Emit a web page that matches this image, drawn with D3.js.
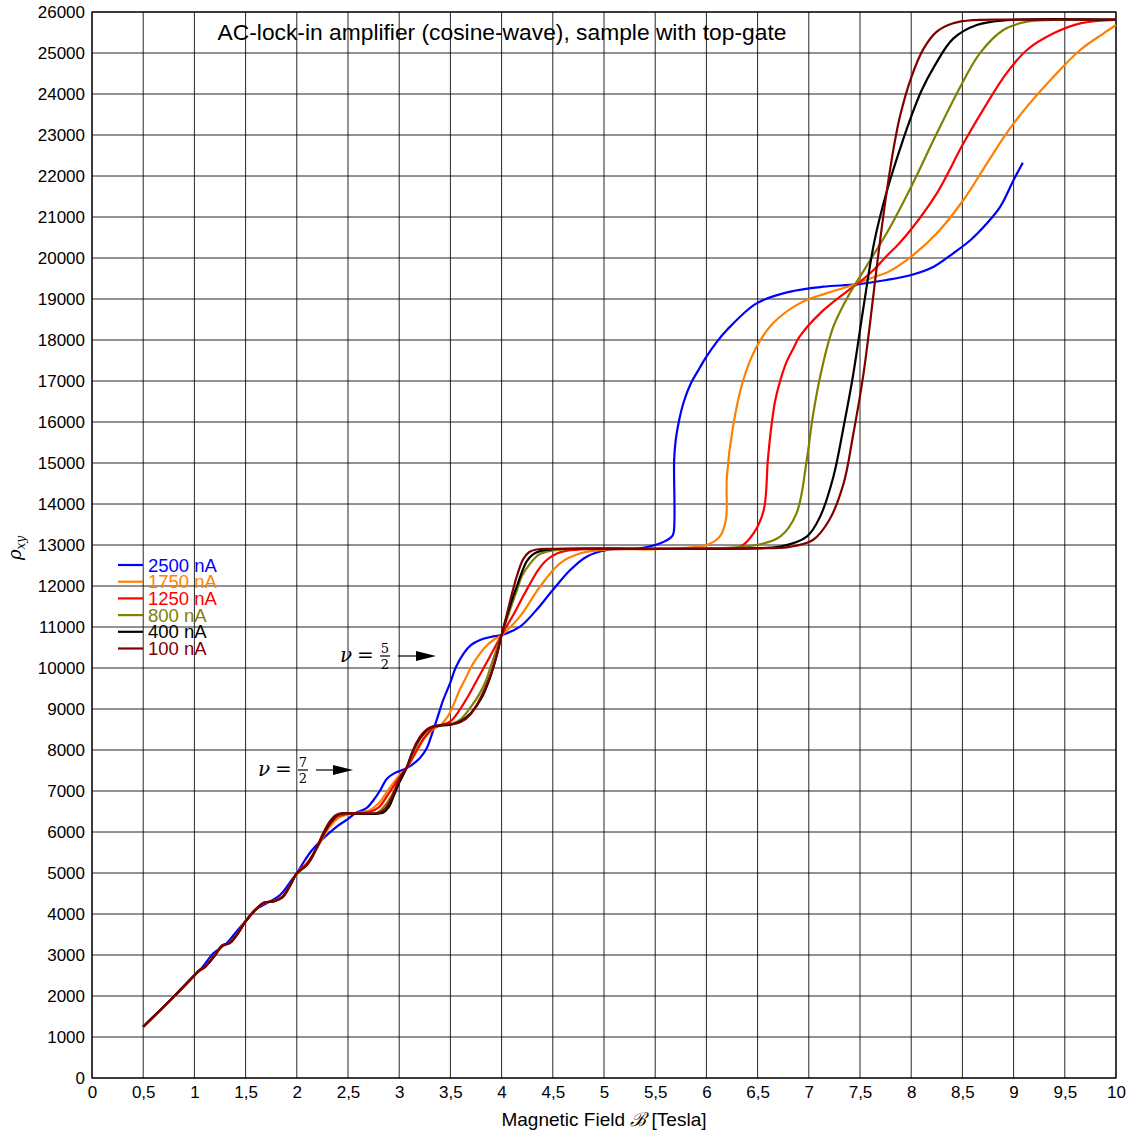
<!DOCTYPE html>
<html><head><meta charset="utf-8">
<script src="https://cdn.jsdelivr.net/npm/d3@7"></script>
<style>
body{margin:0;background:#fff;}
svg{display:block;}
text{font-family:"Liberation Sans",Arial,sans-serif;}
</style></head>
<body>
<svg id="c" width="1135" height="1135"></svg>
<script>
const xTicks = [0,0.5,1,1.5,2,2.5,3,3.5,4,4.5,5,5.5,6,6.5,7,7.5,8,8.5,9,9.5,10];
const yTicks = d3.range(0, 26001, 1000);
const seriesNames = ["2500 nA","1750 nA","1250 nA","800 nA","400 nA","100 nA"];
const seriesColors = ["#0000ff","#ff8000","#ff0000","#808000","#000000","#800000"];

const blue = [[0.5,1250],[0.8,1983],[1.0,2512],[1.07,2675],[1.185,3041],[1.315,3285],[1.41,3569],[1.51,3854],[1.59,4098],[1.705,4261],[1.836,4463],[1.95,4829],[2.0,4992],[2.08,5317],[2.15,5560],[2.26,5846],[2.4,6150],[2.49,6300],[2.57,6455],[2.68,6580],[2.75,6780],[2.81,7000],[2.88,7300],[2.95,7430],[3.07,7553],[3.2,7797],[3.27,8050],[3.3,8244],[3.366,8732],[3.43,9220],[3.5,9650],[3.55,10000],[3.63,10358],[3.7,10560],[3.79,10683],[3.9,10760],[4.0,10805],[4.18,11008],[4.34,11415],[4.5,11902],[4.67,12390],[4.83,12715],[5.03,12878],[5.35,12919],[5.55,13041],[5.66,13200],[5.68,13300],[5.685,15073],[5.7,15550],[5.73,16000],[5.78,16500],[5.85,16950],[5.93,17300],[6.0,17593],[6.1,17950],[6.2,18244],[6.49,18894],[6.82,19180],[7.14,19300],[7.47,19358],[7.76,19463],[8.0,19585],[8.22,19788],[8.41,20114],[8.58,20439],[8.74,20846],[8.87,21252],[9.0,21902],[9.09,22325]];
const orange = [[0.5,1250],[0.8,1985],[1.0,2505],[1.05,2615],[1.1,2700],[1.2,3000],[1.27,3215],[1.35,3300],[1.42,3520],[1.5,3830],[1.6,4120],[1.68,4265],[1.78,4320],[1.86,4430],[1.93,4690],[2.0,4995],[2.1,5250],[2.2,5620],[2.3,6050],[2.4,6330],[2.5,6430],[2.6,6470],[2.7,6520],[2.8,6700],[2.9,7050],[3.0,7380],[3.07,7553],[3.15,7880],[3.25,8300],[3.35,8540],[3.4,8600],[3.47,8800],[3.53,9100],[3.59,9463],[3.64,9707],[3.72,10100],[3.79,10358],[3.86,10560],[3.92,10683],[4.0,10805],[4.18,11260],[4.375,11984],[4.57,12553],[4.77,12797],[5.03,12890],[5.5,12900],[6.0,13000],[6.13,13203],[6.19,13610],[6.2,14666],[6.26,15886],[6.36,17024],[6.49,17837],[6.65,18407],[6.91,18894],[7.17,19138],[7.43,19341],[7.6,19500],[7.79,19680],[8.0,20032],[8.25,20602],[8.51,21415],[8.74,22310],[8.93,23041],[9.13,23691],[9.39,24423],[9.65,25073],[9.88,25480],[10.0,25683]];
const red = [[0.5,1250],[0.8,1988],[1.0,2500],[1.05,2620],[1.1,2700],[1.2,3000],[1.27,3220],[1.35,3300],[1.42,3520],[1.5,3830],[1.6,4120],[1.68,4270],[1.78,4320],[1.86,4420],[1.93,4685],[2.0,4995],[2.1,5230],[2.2,5630],[2.3,6100],[2.4,6380],[2.5,6445],[2.7,6480],[2.8,6600],[2.9,6950],[3.0,7320],[3.07,7553],[3.15,7900],[3.25,8320],[3.33,8530],[3.4,8600],[3.5,8700],[3.59,8976],[3.67,9300],[3.76,9707],[3.88,10250],[4.0,10805],[4.115,11300],[4.2,11700],[4.28,12065],[4.36,12400],[4.44,12634],[4.54,12790],[4.64,12861],[4.83,12900],[5.5,12906],[6.0,12920],[6.33,12959],[6.46,13284],[6.56,13853],[6.6,15073],[6.63,15800],[6.67,16500],[6.72,17000],[6.78,17450],[6.85,17800],[6.91,18081],[7.11,18650],[7.37,19179],[7.5,19420],[7.63,19700],[7.76,20050],[7.88,20350],[8.0,20700],[8.25,21578],[8.51,22797],[8.74,23773],[8.93,24504],[9.13,25073],[9.39,25480],[9.65,25724],[10.0,25805]];
const olive = [[0.5,1250],[0.8,1990],[1.0,2500],[1.05,2625],[1.1,2700],[1.2,2995],[1.27,3225],[1.35,3300],[1.42,3515],[1.5,3825],[1.6,4115],[1.68,4272],[1.78,4315],[1.86,4415],[1.93,4680],[2.0,4990],[2.1,5210],[2.2,5640],[2.3,6150],[2.4,6410],[2.5,6455],[2.78,6465],[2.86,6640],[2.94,6950],[3.0,7250],[3.07,7553],[3.14,7950],[3.22,8320],[3.3,8520],[3.38,8595],[3.5,8625],[3.6,8750],[3.7,9050],[3.78,9350],[3.85,9707],[3.9,10080],[3.95,10450],[4.0,10805],[4.05,11180],[4.1,11550],[4.15,11902],[4.2,12250],[4.28,12553],[4.36,12760],[4.44,12837],[4.64,12900],[5.5,12906],[6.2,12930],[6.49,13000],[6.72,13203],[6.88,13772],[6.98,15073],[7.04,16150],[7.125,17268],[7.24,18325],[7.4,19138],[7.5,19544],[7.6,19951],[7.76,20602],[8.0,21740],[8.25,23041],[8.48,24179],[8.67,24992],[8.9,25561],[9.13,25764],[9.39,25805],[10.0,25812]];
const black = [[0.5,1250],[0.8,1990],[1.0,2500],[1.05,2628],[1.1,2702],[1.2,2990],[1.27,3228],[1.35,3300],[1.42,3510],[1.5,3820],[1.6,4110],[1.68,4275],[1.78,4312],[1.86,4410],[1.93,4675],[2.0,4990],[2.1,5200],[2.2,5645],[2.26,5950],[2.33,6250],[2.4,6420],[2.45,6455],[2.84,6470],[2.9,6620],[2.95,6900],[3.0,7200],[3.07,7553],[3.12,7900],[3.17,8163],[3.22,8350],[3.27,8488],[3.33,8569],[3.5,8620],[3.6,8700],[3.7,8900],[3.8,9250],[3.885,9750],[3.95,10280],[4.0,10805],[4.05,11250],[4.1,11650],[4.15,12000],[4.2,12350],[4.245,12600],[4.3,12760],[4.375,12850],[4.5,12900],[5.5,12906],[6.4,12920],[6.72,12959],[6.98,13203],[7.11,13690],[7.24,14666],[7.34,15886],[7.43,17105],[7.53,18732],[7.64,20400],[7.77,21700],[7.92,22880],[8.0,23450],[8.1,24080],[8.22,24650],[8.41,25350],[8.64,25683],[8.93,25800],[10.0,25812]];
const brown = [[0.5,1250],[0.8,1990],[1.0,2500],[1.05,2630],[1.1,2703],[1.2,2985],[1.27,3230],[1.35,3300],[1.42,3505],[1.5,3815],[1.6,4105],[1.68,4278],[1.78,4310],[1.86,4405],[1.93,4670],[2.0,4990],[2.05,5100],[2.1,5200],[2.15,5380],[2.2,5650],[2.26,5980],[2.32,6250],[2.38,6410],[2.45,6455],[2.8,6470],[2.86,6560],[2.92,6800],[2.97,7100],[3.02,7380],[3.07,7553],[3.12,7880],[3.17,8180],[3.22,8380],[3.28,8520],[3.35,8590],[3.5,8625],[3.6,8680],[3.7,8880],[3.8,9300],[3.88,9750],[3.95,10300],[4.0,10805],[4.05,11300],[4.1,11800],[4.15,12250],[4.21,12650],[4.27,12830],[4.34,12890],[4.5,12906],[6.0,12906],[6.5,12920],[6.8,12950],[7.04,13122],[7.2,13610],[7.34,14504],[7.43,15642],[7.53,17105],[7.6,18450],[7.65,19500],[7.7,20500],[7.76,21600],[7.83,22700],[7.89,23450],[8.0,24400],[8.12,25100],[8.25,25520],[8.41,25724],[8.6,25800],[9.0,25812],[10.0,25812]];
const seriesData = [blue, orange, red, olive, black, brown];

const svg = d3.select("#c");
const L = 92, R = 1116, T = 12, B = 1078;
const x = d3.scaleLinear().domain([0,10]).range([L,R]);
const y = d3.scaleLinear().domain([0,26000]).range([B,T]);
const fmt = d => String(d).replace(".", ",");

const grid = svg.append("g");
grid.selectAll("line.v").data(xTicks).join("line")
  .attr("x1", d=>x(d)).attr("x2", d=>x(d)).attr("y1", T).attr("y2", B)
  .attr("stroke","#000").attr("stroke-width",1).attr("stroke-opacity",0.85);
grid.selectAll("line.h").data(yTicks).join("line")
  .attr("x1", L).attr("x2", R).attr("y1", d=>y(d)).attr("y2", d=>y(d))
  .attr("stroke","#000").attr("stroke-width",1).attr("stroke-opacity",0.85);

svg.append("rect").attr("x",L).attr("y",T).attr("width",R-L).attr("height",B-T)
  .attr("fill","none").attr("stroke","#000").attr("stroke-width",1.2);

const xAxis = svg.append("g").attr("transform",`translate(0,${B})`)
  .call(d3.axisBottom(x).tickValues(xTicks).tickFormat(fmt).tickSize(0).tickPadding(8));
xAxis.select(".domain").remove();
xAxis.selectAll("text").attr("font-size",17).attr("fill","#000")
  .style("font-family","'Liberation Sans',Arial,sans-serif");
const yAxis = svg.append("g").attr("transform",`translate(${L},0)`)
  .call(d3.axisLeft(y).tickValues(yTicks).tickFormat(d=>String(d)).tickSize(0).tickPadding(7));
yAxis.select(".domain").remove();
yAxis.selectAll("text").attr("font-size",17).attr("fill","#000")
  .style("font-family","'Liberation Sans',Arial,sans-serif");

// title
svg.append("text").attr("x",502).attr("y",40).attr("text-anchor","middle")
  .attr("font-size",22.8).text("AC-lock-in amplifier (cosine-wave), sample with top-gate");

// axis labels
const xl = svg.append("text").attr("x",604).attr("y",1126).attr("text-anchor","middle").attr("font-size",19);
xl.append("tspan").text("Magnetic Field ");
xl.append("tspan").attr("font-style","italic").style("font-family","'DejaVu Serif',serif").text("ℬ");
xl.append("tspan").text(" [Tesla]");
const yl = svg.append("text").attr("transform","translate(21,548) rotate(-90)").attr("text-anchor","middle")
  .style("font-family","'DejaVu Serif',serif").attr("font-style","italic").attr("font-size",18);
yl.append("tspan").text("ρ");
yl.append("tspan").attr("font-size",12).attr("dy",4).text("xy");

// curves
const line = d3.line().x(d=>x(d[0])).y(d=>y(d[1])).curve(d3.curveCatmullRom.alpha(0.5));
seriesData.forEach((s,i)=>{
  svg.append("path").datum(s).attr("d",line).attr("fill","none")
    .attr("stroke",seriesColors[i]).attr("stroke-width",2.2).attr("stroke-linejoin","round");
});

// legend
const lg = svg.append("g");
seriesNames.forEach((n,i)=>{
  const yy = 565 + i*16.7;
  lg.append("line").attr("x1",118).attr("x2",143).attr("y1",yy).attr("y2",yy)
    .attr("stroke",seriesColors[i]).attr("stroke-width",2.2);
  lg.append("text").attr("x",148).attr("y",yy+6.5).attr("font-size",18.5)
    .attr("fill",seriesColors[i]).text(n);
});

// annotations
function nuLabel(tx, ty, num, den, ax1, ax2){
  const g = svg.append("g");
  g.append("text").attr("x",tx).attr("y",ty+6).attr("font-size",20)
    .style("font-family","'DejaVu Serif',serif").attr("font-style","italic").text("ν");
  g.append("text").attr("x",tx+17).attr("y",ty+6).attr("font-size",20)
    .style("font-family","'DejaVu Serif',serif").text("=");
  const fx = tx+45;
  g.append("text").attr("x",fx).attr("y",ty-3).attr("text-anchor","middle").attr("font-size",13)
    .style("font-family","'DejaVu Serif',serif").text(num);
  g.append("line").attr("x1",fx-5).attr("x2",fx+5).attr("y1",ty).attr("y2",ty).attr("stroke","#000").attr("stroke-width",1.2);
  g.append("text").attr("x",fx).attr("y",ty+13).attr("text-anchor","middle").attr("font-size",13)
    .style("font-family","'DejaVu Serif',serif").text(den);
  g.append("line").attr("x1",ax1).attr("x2",ax2-16).attr("y1",ty).attr("y2",ty).attr("stroke","#000").attr("stroke-width",1.2);
  g.append("path").attr("d",`M${ax2},${ty} L${ax2-20},${ty-5} L${ax2-20},${ty+5} Z`).attr("fill","#000");
}
nuLabel(340, 656, "5", "2", 398, 436);
nuLabel(258, 770, "7", "2", 316, 353);
</script>
</body></html>
